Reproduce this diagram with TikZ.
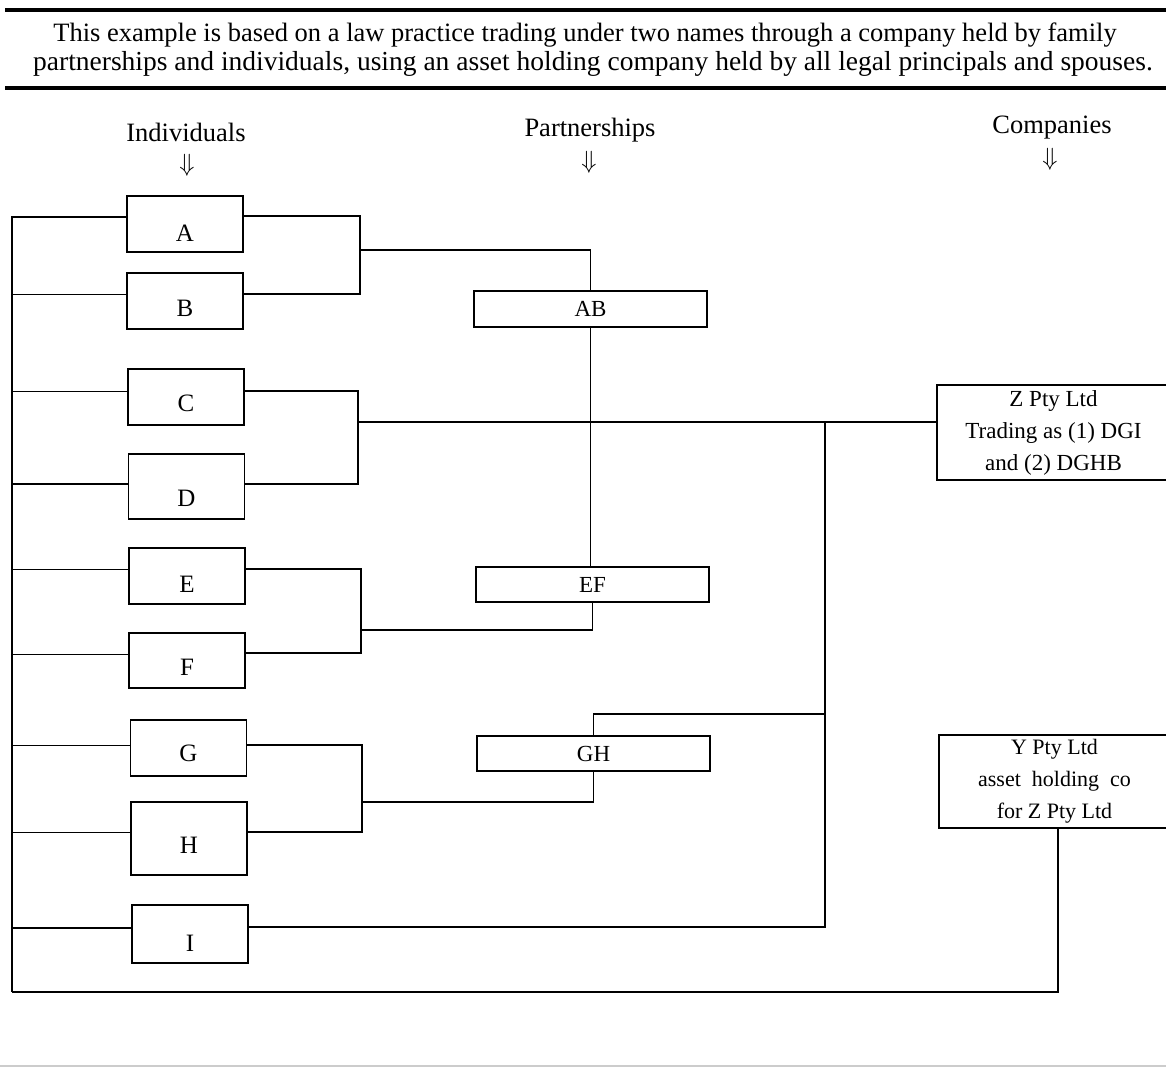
\documentclass[tikz,border=0pt]{standalone}
\usepackage{fontspec}
\setmainfont{Liberation Serif}
\usetikzlibrary{calc}
\newcommand\lowerlbl[2]{\raisebox{-#1pt}[0pt][0pt]{#2}}
\begin{document}
\begin{tikzpicture}[x=1pt,y=-1pt,
  conn/.style={line width=1.8pt},
  rule/.style={line width=3.2pt},
  ibox/.style={draw,line width=1.8pt,minimum width=116pt,minimum height=56pt,inner sep=0pt,font=\fontsize{25}{29}\selectfont},
  pbox/.style={draw,line width=1.8pt,minimum width=233pt,minimum height=35pt,inner sep=0pt,font=\fontsize{23}{26}\selectfont},
  cbox/.style={draw,line width=1.8pt,minimum width=233pt,inner sep=0pt,align=center},
  head/.style={inner sep=0pt,font=\fontsize{26.5}{30}\selectfont},
  arr/.style={inner sep=0pt,font=\fontsize{28}{32}\selectfont}]
\useasboundingbox (0,0) rectangle (1166,1069);
\fill[white] (0,0) rectangle (1166,1069);
% title and rules
\draw[rule] (5,10) -- (1166,10);
\draw[rule] (5,88) -- (1166,88);
\draw[gray!40,line width=1.5pt] (0,1066) -- (1166,1066);
\node[inner sep=0pt,font=\fontsize{26.5}{29}\selectfont] (t1) at (585,35) {This example is based on a law practice trading under two names through a company held by family};
\node[inner sep=0pt,font=\fontsize{27.5}{29}\selectfont] (t2) at (593,64) {partnerships and individuals, using an asset holding company held by all legal principals and spouses.};
% headers
\node[head] (hI) at (186,132) {Individuals};
\node[arr] (aI) at (187,165) {$\Downarrow$};
\node[head] (hP) at (590,130) {Partnerships};
\node[arr] (aP) at (589,162) {$\Downarrow$};
\node[head] (hC) at (1052,128) {Companies};
\node[arr] (aC) at (1050,159) {$\Downarrow$};
% individuals
\node[ibox] (A) at (185,224) {\lowerlbl{17}{A}};
\node[ibox] (B) at (185,301) {\lowerlbl{15}{B}};
\node[ibox] (C) at (186,397) {\lowerlbl{14}{C}};
\node[ibox,minimum height=65pt] (D) at (186.5,486.5) {\lowerlbl{20}{D}};
\node[ibox] (E) at (187,576) {\lowerlbl{16}{E}};
\node[ibox,minimum height=55pt] (F) at (187,660.5) {\lowerlbl{15}{F}};
\node[ibox] (G) at (188.5,748) {\lowerlbl{13}{G}};
\node[ibox,minimum height=73pt] (H) at (189,838.5) {\lowerlbl{15}{H}};
\node[ibox,minimum height=58pt] (I) at (190,934) {\lowerlbl{17}{I}};
% partnerships
\node[pbox,minimum height=36pt] (AB) at (590.5,309) {AB};
\node[pbox] (EF) at (592.5,584.5) {EF};
\node[pbox] (GH) at (593.5,753.5) {GH};
% companies
\node[cbox,minimum height=95pt,font=\fontsize{23}{32}\selectfont] (Z) at (1053.5,432.5) {Z Pty Ltd\\Trading as (1) DGI\\and (2) DGHB};
\node[cbox,minimum width=231pt,minimum height=93pt,font=\fontsize{22}{32}\selectfont] (Y) at (1054.5,781.5) {Y Pty Ltd\\asset~ holding~ co\\for Z Pty Ltd};
% left bus
\coordinate (busB) at (12,992);
\foreach \n/\s in {A/7,B/6.5,C/5.5,D/2.5,E/6.5,F/6,G/2.5,H/6,I/6}
  \draw[conn] ([yshift=\s pt]\n.west) -| (busB);
\draw[conn] (busB) -| ([xshift=3.5pt]Y.south);
% A-B to AB
\coordinate (abx) at (360,250);
\draw[conn] ([yshift=8pt]A.east) -| (abx);
\draw[conn] ([yshift=7pt]B.east) -| (abx);
\draw[conn] (abx) -| (AB.north);
\draw[conn] (AB.south) -- (AB.south |- EF.north);
% C-D to Z
\coordinate (cdx) at (358,422);
\draw[conn] ([yshift=6pt]C.east) -| (cdx);
\draw[conn] ([yshift=2.5pt]D.east) -| (cdx);
\draw[conn] (cdx) -- (cdx -| Z.west);
% company bus
\coordinate (zb) at (825,422);
\draw[conn] (zb) |- ([yshift=7pt]I.east);
% E-F to EF
\coordinate (efx) at (361,630);
\draw[conn] ([yshift=7pt]E.east) -| (efx);
\draw[conn] ([yshift=7.5pt]F.east) -| (efx);
\draw[conn] (efx) -| (EF.south);
% G-H to GH
\coordinate (ghx) at (362,802);
\coordinate (gj) at (825,714);
\draw[conn] ([yshift=3pt]G.east) -| (ghx);
\draw[conn] ([yshift=6.5pt]H.east) -| (ghx);
\draw[conn] (ghx) -| (GH.south);
\draw[conn] (GH.north) |- (gj);
\end{tikzpicture}
\end{document}
